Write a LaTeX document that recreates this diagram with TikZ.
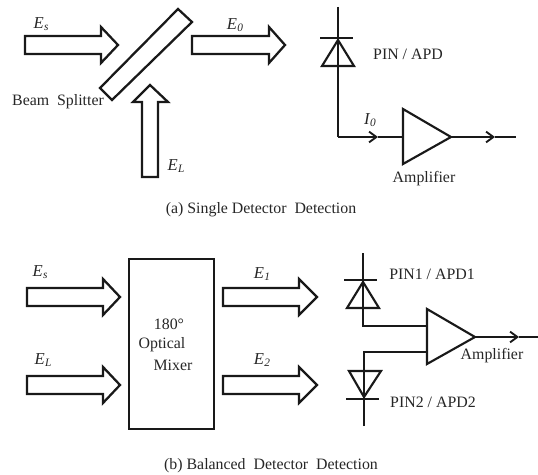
\documentclass[tikz,border=0pt]{standalone}
\usepackage{fontspec}
\setmainfont{Liberation Serif}
\usetikzlibrary{arrows.meta}
\newcommand{\Esub}[2]{\textit{#1\kern0.3pt\raisebox{-0.35ex}{\fontsize{8.5}{9}\selectfont #2}}}
% horizontal block arrow: start x, centre y, head base x, tip x
\newcommand{\harrow}[4]{\draw[blockarrow] (#1,#2-9) -- (#3,#2-9) -- (#3,#2-18) -- (#4,#2) -- (#3,#2+18) -- (#3,#2+9) -- (#1,#2+9) -- cycle;}
\tikzset{
  x=0.75pt,y=-0.75pt,
  blockarrow/.style={draw=black!90,line width=1.7pt,fill=white,miter limit=10},
  wire/.style={draw=black!90,line width=1.6pt},
  flow/.style={wire,-{Straight Barb[length=5.5pt,width=8pt,line width=1.4pt]}},
  lbl/.style={inner sep=0pt,text=black!85,font=\fontsize{11.9}{13}\selectfont},
  sym/.style={inner sep=0pt,text=black!85,font=\fontsize{12.5}{14}\selectfont},
  box/.style={draw=black!90,line width=1.7pt,fill=white},
}
\begin{document}
\begin{tikzpicture}
\useasboundingbox (0,0) rectangle (538,474);
% ---- (a)
\harrow{25}{45}{101}{118}
\harrow{192}{45}{269}{285}
\draw[blockarrow] (142,177) -- (142,102) -- (133,102) -- (150,85) -- (168,102) -- (158,102) -- (158,177) -- cycle;
\draw[box] (178,9) -- (192,22) -- (112,100) -- (100,88) -- cycle;
\node[sym] (es1) at (41,24) {\Esub{E}{s}};
\node[sym] (e0) at (235,25) {\Esub{E}{0}};
\node[sym] (el1) at (176,166) {\Esub{E}{L}};
\node[lbl] (bs) at (58,102) {Beam\ \ Splitter};
% detector
\coordinate (d1top) at (338,7);
\coordinate (d1corner) at (338,137);
\coordinate (a1in) at (403,137);
\coordinate (a1mid) at (378,137);
\coordinate (a1tip) at (451,137);
\coordinate (a1arr) at (495,137);
\coordinate (a1end) at (516,137);
\draw[wire,line join=miter] (d1top) -- (d1corner);
\draw[flow] (d1corner) -- (a1mid);
\draw[wire] (a1mid) -- (a1in);
\draw[flow] (a1tip) -- (a1arr);
\draw[wire] (a1arr) -- (a1end);
\draw[wire] (320,38) -- (353,38);
\draw[wire] (338,40) -- (322,66) -- (354,66) -- cycle;
\draw[wire,line join=miter] (403,109) -- (403,164) -- (a1tip) -- cycle;
\node[lbl] (pin) at (408,54) {PIN / APD};
\node[sym] (i0) at (370,120) {\Esub{I}{0}};
\node[lbl] (amp1) at (424,179) {Amplifier};
\node[lbl] (capa) at (261,210) {(a) Single Detector\ \ Detection};
% ---- (b)
\harrow{27}{297}{103}{120}
\harrow{27}{385}{103}{120}
\harrow{223}{297}{299}{317}
\harrow{223}{385}{299}{317}
\node[box,minimum width=63.75pt,minimum height=127.5pt,inner sep=0pt] (mixer) at (171.5,344) {};
\node[lbl] (m1) at (169,324) {180°};
\node[lbl] (m2) at (162,345) {Optical};
\node[lbl] (m3) at (173,365) {Mixer};
\node[sym] (es2) at (40,272) {\Esub{E}{s}};
\node[sym] (el2) at (43,360) {\Esub{E}{L}};
\node[sym] (e1) at (262,274) {\Esub{E}{1}};
\node[sym] (e2) at (262,360) {\Esub{E}{2}};
% detector 1
\coordinate (d2top) at (363,253);
\coordinate (d2corner) at (363,326);
\coordinate (a2in1) at (427,326);
% detector 2
\coordinate (d3bot) at (364,426);
\coordinate (d3corner) at (364,352);
\coordinate (a2in2) at (427,352);
\coordinate (a2tip) at (475,337);
\coordinate (a2arr) at (519,337);
\coordinate (a2end) at (538,337);
\draw[wire] (d2top) -- (d2corner) -- (a2in1);
\draw[wire] (d3bot) -- (d3corner) -- (a2in2);
\draw[flow] (a2tip) -- (a2arr);
\draw[wire] (a2arr) -- (a2end);
\draw[wire] (344,280) -- (377,280);
\draw[wire] (363,282) -- (347,308) -- (379,308) -- cycle;
\draw[wire] (346,399) -- (379,399);
\draw[wire] (364,397) -- (349,371) -- (381,371) -- cycle;
\draw[wire,line join=miter] (427,309) -- (427,364) -- (a2tip) -- cycle;
\node[lbl] (pin1) at (432,274) {PIN1 / APD1};
\node[lbl] (pin2) at (433,402) {PIN2 / APD2};
\node[lbl] (amp2) at (492,356) {Amplifier};
\node[lbl] (capb) at (271,466) {(b) Balanced\ \ Detector\ \ Detection};
\end{tikzpicture}
\end{document}
